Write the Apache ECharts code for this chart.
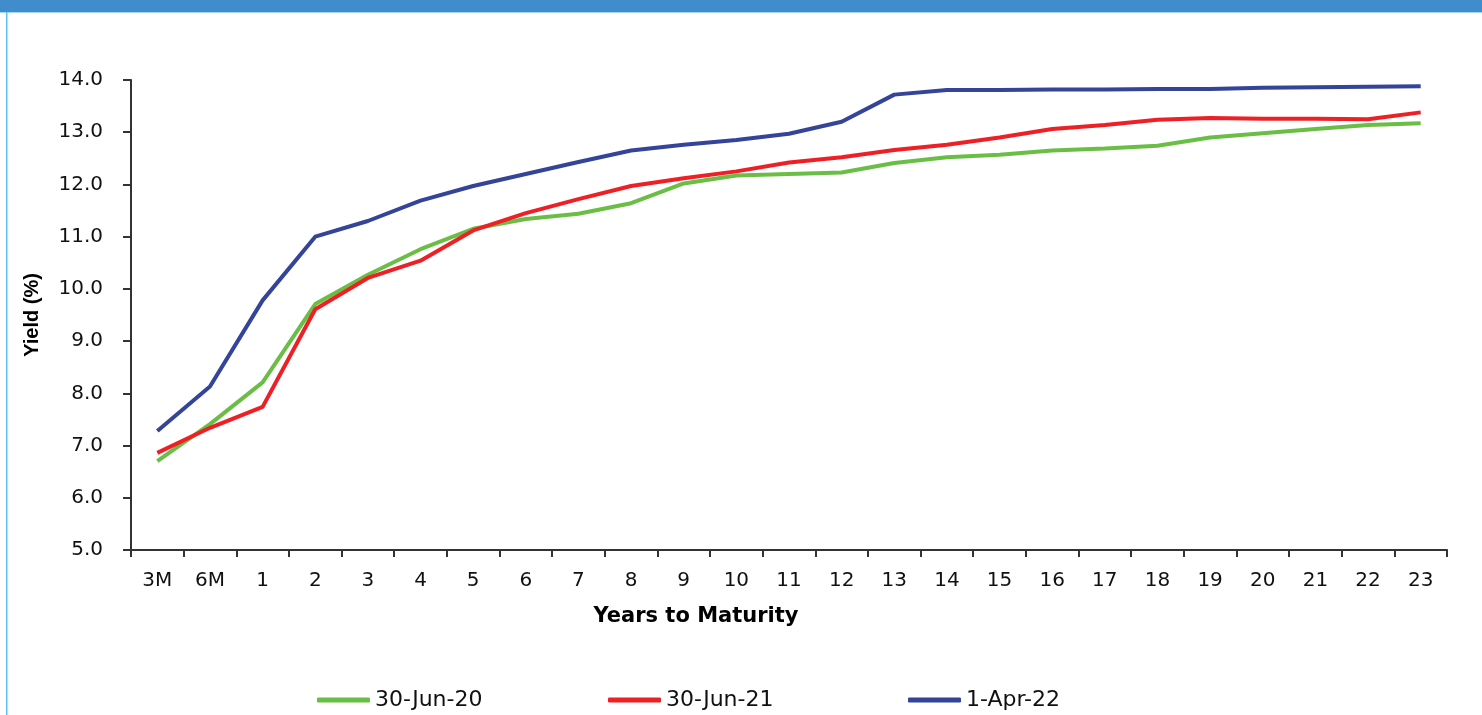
<!DOCTYPE html>
<html>
<head>
<meta charset="utf-8">
<script src="https://cdn.jsdelivr.net/npm/echarts@6/dist/echarts.min.js"></script>
<style>
html,body{margin:0;padding:0;background:#fff;}
#chart{width:1482px;height:715px;}
</style>
</head>
<body>
<div id="chart"></div>
<script>
const categories = ['3M','6M','1','2','3','4','5','6','7','8','9','10','11','12','13','14','15','16','17','18','19','20','21','22','23'];
const seriesNames = ['30-Jun-20','30-Jun-21','1-Apr-22'];
const yield2020 = [6.70,7.41,8.21,9.71,10.27,10.76,11.15,11.34,11.44,11.64,12.02,12.17,12.20,12.23,12.41,12.52,12.57,12.65,12.69,12.74,12.90,12.98,13.06,13.14,13.17];
const yield2021 = [6.86,7.34,7.74,9.61,10.21,10.54,11.12,11.45,11.72,11.97,12.12,12.25,12.42,12.52,12.66,12.76,12.90,13.06,13.14,13.24,13.27,13.26,13.26,13.25,13.38];
const yield2022 = [7.28,8.13,9.78,11.00,11.30,11.69,11.97,12.20,12.43,12.65,12.76,12.85,12.97,13.20,13.72,13.81,13.81,13.82,13.82,13.83,13.83,13.85,13.86,13.87,13.88];
const yMin = 5, yMax = 14, yStep = 1;

const colors = ['#6BBE45','#EE2026','#334499'];
const chart = echarts.init(document.getElementById('chart'), null, {renderer:'canvas'});
const axisColor = '#333333';
const legendLefts = [317, 608, 908];
const legendBase = {
  top: 689,
  padding: 0,
  icon: 'roundRect',
  itemWidth: 53, itemHeight: 5,
  textStyle: {fontFamily:'DejaVu Sans', fontSize:22, color:'#111'}
};
const option = {
  animation: false,
  backgroundColor: '#ffffff',
  color: colors,
  graphic: [
    {type:'rect', left:0, top:0, shape:{width:1482, height:12}, style:{fill:'#418CCB'}, silent:true},
    {type:'rect', left:0, top:12, shape:{width:1482, height:1}, style:{fill:'#A8D4F0'}, silent:true},
    {type:'rect', left:6, top:12, shape:{width:1.5, height:703}, style:{fill:'#5EC4F0'}, silent:true}
  ],
  grid: {left:131, right:35, top:80, bottom:165, containLabel:false},
  legend: seriesNames.map((n, i) => Object.assign({}, legendBase, {left: legendLefts[i], data: [n]})),
  xAxis: {
    type: 'category',
    data: categories,
    boundaryGap: true,
    name: 'Years to Maturity',
    nameLocation: 'middle',
    nameGap: 56,
    nameTextStyle: {fontFamily:'DejaVu Sans', fontWeight:'bold', fontSize:21, color:'#000', padding:[0,186,0,0]},
    axisLine: {lineStyle:{color:axisColor, width:2}},
    axisTick: {show:true, inside:false, length:7, alignWithLabel:false, lineStyle:{color:axisColor, width:2}},
    axisLabel: {fontFamily:'DejaVu Sans', fontSize:20, color:'#111', margin:21, interval:0},
    splitLine: {show:false}
  },
  yAxis: {
    type: 'value',
    min: yMin, max: yMax, interval: yStep,
    name: 'Yield (%)',
    nameLocation: 'middle',
    nameGap: 89,
    nameRotate: 90,
    nameTextStyle: {fontFamily:'Liberation Sans', fontWeight:'bold', fontSize:20, color:'#000'},
    axisLine: {show:true, lineStyle:{color:axisColor, width:2}},
    axisTick: {show:true, inside:false, length:8, lineStyle:{color:axisColor, width:2}},
    axisLabel: {fontFamily:'DejaVu Sans', fontSize:20, color:'#111', margin:28, formatter: v => v.toFixed(1)},
    splitLine: {show:false}
  },
  series: [
    {name:seriesNames[0], type:'line', data:yield2020, symbol:'none', lineStyle:{width:4, color:colors[0]}, itemStyle:{color:colors[0]}},
    {name:seriesNames[1], type:'line', data:yield2021, symbol:'none', lineStyle:{width:4, color:colors[1]}, itemStyle:{color:colors[1]}},
    {name:seriesNames[2], type:'line', data:yield2022, symbol:'none', lineStyle:{width:4, color:colors[2]}, itemStyle:{color:colors[2]}}
  ]
};
chart.setOption(option);
</script>
</body>
</html>
